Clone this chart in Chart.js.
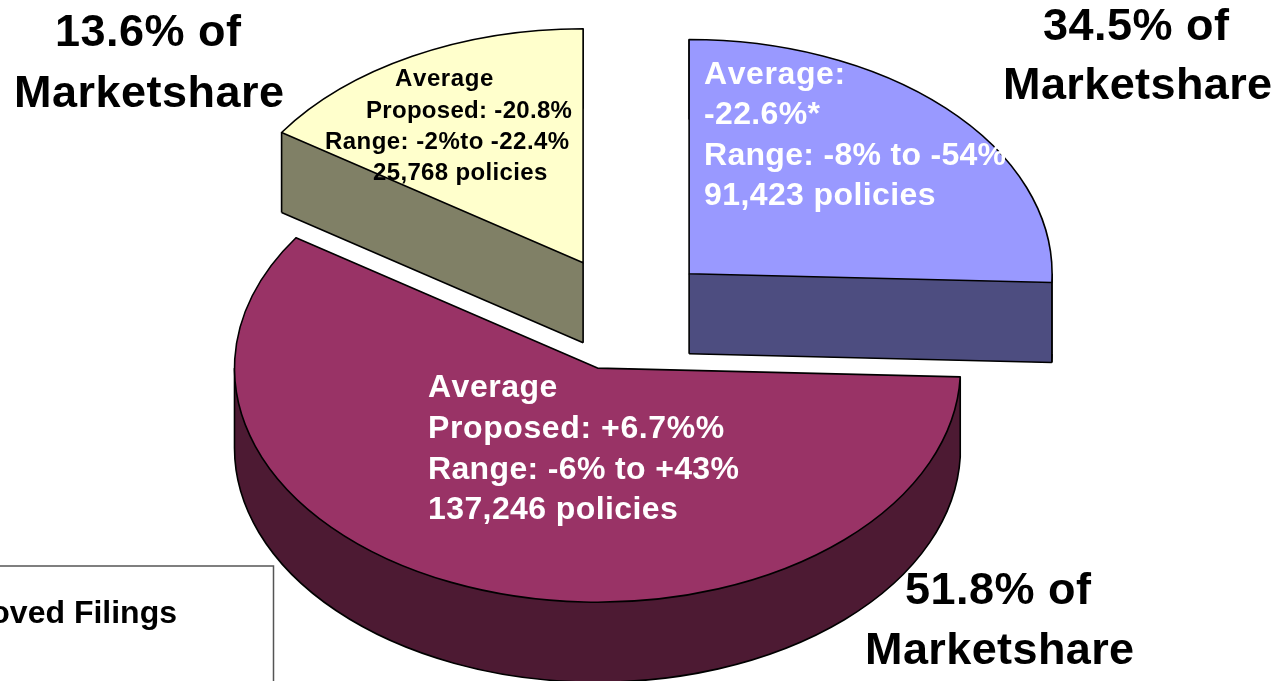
<!DOCTYPE html>
<html>
<head>
<meta charset="utf-8">
<title>Marketshare</title>
<script src="https://cdn.jsdelivr.net/npm/chart.js@4/dist/chart.umd.min.js"></script>
<style>
  html, body { margin: 0; padding: 0; background: #fff; overflow: hidden; }
  canvas { display: block; }
</style>
</head>
<body>
<canvas id="pie" width="1277" height="681"></canvas>
<script>
// slice order: blue, maroon, yellow (clockwise from the top)
const categories = ['34.5% of Marketshare', '51.8% of Marketshare', '13.6% of Marketshare'];
// share of the drawn pie
const sliceShares = [25.6, 58.8, 15.6];

const topColors = ['#9999FF', '#993366', '#FFFFCC'];
const sideColors = ['#4D4D80', '#4D1A33', '#808066'];

const SQUASH = 0.645;   // tilt of the pie
const DEPTH = 80;       // height of the pie wall
const EXPLODE = 89;     // how far slices are pulled out
const RADIUS = 363;

const FONT = '"Liberation Sans", Arial, sans-serif';
// [text, x, baseline, size, colour, spacing]
const captions = [
    ['13.6% of', 55, 46, 45, '#000', 0.5],
    ['Marketshare', 14, 107, 45, '#000', 0.5],
    ['34.5% of', 1043, 40, 45, '#000', 0.5],
    ['Marketshare', 1003, 99, 45, '#000', 0.4],
    ['51.8% of', 905, 604, 45, '#000', 0.5],
    ['Marketshare', 865, 664, 45, '#000', 0.4],
    ['Average:', 704, 84, 32, '#fff', 0.6],
    ['-22.6%*', 704, 124, 32, '#fff', 0.35],
    ['Range: -8% to -54%', 704, 165, 32, '#fff', 0.3],
    ['91,423 policies', 704, 205, 32, '#fff', 0.4],
    ['Average', 428, 397, 32, '#fff', 0.5],
    ['Proposed: +6.7%%', 428, 438, 32, '#fff', 0.6],
    ['Range: -6% to +43%', 428, 479, 32, '#fff', 0.35],
    ['137,246 policies', 428, 519, 32, '#fff', 0.4],
    ['Average', 395, 86, 24, '#000', 0.6],
    ['Proposed: -20.8%', 366, 118, 24, '#000', 0.3],
    ['Range: -2%to -22.4%', 325, 149, 24, '#000', 0.45],
    ['25,768 policies', 373, 180, 24, '#000', 0.35]
];

// the library draws flat circles, so the tilt and wall are done here from its arc elements
const tiltedPie = {
    id: 'tiltedPie',
    beforeDatasetsDraw(chart) {
        const ctx = chart.ctx;
        const arcs = chart.getDatasetMeta(0).data;
        // back slices first, maroon last
        [0, 2, 1].forEach(i => drawSlice(ctx, arcs[i], i));
        return false;
    },
    afterDraw(chart) {
        const ctx = chart.ctx;
        // box at the lower left, cut by the edge of the page
        ctx.save();
        ctx.strokeStyle = '#555';
        ctx.lineWidth = 1.5;
        ctx.beginPath();
        ctx.moveTo(-2, 566);
        ctx.lineTo(273.5, 566);
        ctx.lineTo(273.5, 683);
        ctx.stroke();
        ctx.fillStyle = '#000';
        ctx.font = 'bold 32px ' + FONT;
        ctx.fontKerning = 'none';
        ctx.textAlign = 'right';
        ctx.fillText('oved Filings', 177, 623);
        ctx.restore();

        ctx.save();
        ctx.fontKerning = 'none';
        captions.forEach(c => {
            ctx.font = 'bold ' + c[3] + 'px ' + FONT;
            ctx.letterSpacing = c[5] + 'px';
            ctx.fillStyle = c[4];
            ctx.fillText(c[0], c[1], c[2]);
        });
        ctx.restore();
    }
};

function drawSlice(ctx, arc, i) {
    const p = arc.getProps(['x', 'y', 'startAngle', 'endAngle', 'outerRadius']);
    const mid = (p.startAngle + p.endAngle) / 2;
    const ox = p.x + Math.cos(mid) * EXPLODE;
    const oy = p.y + Math.sin(mid) * EXPLODE * SQUASH;
    const rim = a => [ox + Math.cos(a) * p.outerRadius, oy + Math.sin(a) * p.outerRadius * SQUASH];

    // add part of the rim to the current path, dy below the top face
    const addRim = (dy, from, to, back) => {
        ctx.save();
        ctx.translate(ox, oy + dy);
        ctx.scale(1, SQUASH);
        ctx.arc(0, 0, p.outerRadius, from, to, back);
        ctx.restore();
    };

    const trace = dy => {
        ctx.beginPath();
        ctx.moveTo(ox, oy + dy);
        addRim(dy, p.startAngle, p.endAngle, false);
        ctx.closePath();
    };

    // strip swept by one cut edge of the slice going down the wall
    const fillCut = a => {
        const e = rim(a);
        ctx.beginPath();
        ctx.moveTo(ox, oy);
        ctx.lineTo(e[0], e[1]);
        ctx.lineTo(e[0], e[1] + DEPTH);
        ctx.lineTo(ox, oy + DEPTH);
        ctx.closePath();
        ctx.fill();
    };

    // the part of the rim that faces the viewer
    const from = Math.max(p.startAngle, 0);
    const to = Math.min(p.endAngle, Math.PI);

    ctx.save();
    ctx.lineJoin = 'round';
    ctx.lineCap = 'butt';

    // wall
    ctx.fillStyle = sideColors[i];
    trace(DEPTH);
    ctx.fill();
    fillCut(p.startAngle);
    fillCut(p.endAngle);
    if (to > from) {
        ctx.beginPath();
        addRim(0, from, to, false);
        addRim(DEPTH, to, from, true);
        ctx.closePath();
        ctx.fill();
    }

    ctx.strokeStyle = '#000';
    ctx.lineWidth = 1.6;

    // lower outline
    ctx.beginPath();
    if (to > from) addRim(DEPTH, from, to, false);
    [[p.startAngle, -Math.cos(p.startAngle)], [p.endAngle, Math.cos(p.endAngle)]].forEach(cut => {
        if (cut[1] > 0.01) {
            const e = rim(cut[0]);
            ctx.moveTo(ox, oy + DEPTH);
            ctx.lineTo(e[0], e[1] + DEPTH);
        }
    });
    ctx.stroke();

    // upright edges of the wall
    const edges = [p.startAngle, p.endAngle];
    [0, Math.PI].forEach(a => {
        if (a > p.startAngle && a < p.endAngle) edges.push(a);
    });
    ctx.beginPath();
    ctx.moveTo(ox, oy);
    ctx.lineTo(ox, oy + DEPTH);
    edges.forEach(a => {
        const e = rim(a);
        ctx.moveTo(e[0], e[1]);
        ctx.lineTo(e[0], e[1] + DEPTH);
    });
    ctx.stroke();

    // top face
    ctx.fillStyle = arc.options.backgroundColor;
    trace(0);
    ctx.fill();
    ctx.stroke();
    ctx.restore();
}

document.addEventListener('DOMContentLoaded', function() {
    new Chart(document.getElementById('pie'), {
        type: 'pie',
        data: {
            labels: categories,
            datasets: [{
                data: sliceShares,
                backgroundColor: topColors,
                borderWidth: 0
            }]
        },
        options: {
            responsive: false,
            animation: false,
            radius: RADIUS,
            // padding only moves the pie centre, the radius is fixed above
            layout: { padding: { right: 27, bottom: 54 } },
            plugins: {
                legend: { display: false },
                tooltip: { enabled: false }
            }
        },
        plugins: [tiltedPie]
    });
});
</script>
</body>
</html>
